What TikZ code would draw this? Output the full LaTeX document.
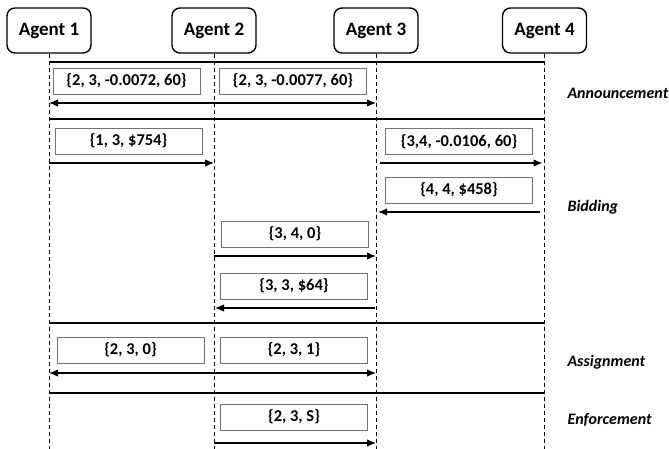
\documentclass[tikz,border=0pt]{standalone}
\usepackage{fontspec}
\setmainfont{Carlito}
\usetikzlibrary{arrows.meta}

\begin{document}
\begin{tikzpicture}[x=1pt,y=-1pt,
    agent/.style={draw,line width=1.4pt,rounded corners=8pt,minimum width=84pt,minimum height=45pt,
      font=\fontsize{19}{22}\selectfont\bfseries},
    msg/.style={draw=black!55,fill=white,line width=0.9pt,minimum width=147pt,minimum height=26pt,inner sep=0pt,
      font=\fontsize{16.5}{19}\selectfont\bfseries},
    life/.style={line width=0.8pt,dash pattern=on 4pt off 3pt},
    phase/.style={line width=2.6pt},
    sig/.style={-{Latex[length=9pt,width=7.5pt]},line width=1.3pt},
    stage/.style={anchor=west,font=\fontsize{16}{19}\selectfont\bfseries\itshape}]

        \useasboundingbox (0,0) rectangle (669,449);

        % Agents
        \node[agent] (a1) at (49,30.5) {Agent 1};
        \node[agent] (a2) at (214,30.5) {Agent 2};
        \node[agent] (a3) at (376,30.5) {Agent 3};
        \node[agent] (a4) at (544.5,30.5) {Agent 4};

        % Lifelines
        \foreach \i in {1,...,4} {
            \coordinate (e\i) at (a\i |- 0,449);
            \draw[life] (a\i) -- (e\i);
        }

        % Phase separators
        \foreach \y [count=\k] in {62,119,323,393} {
            \coordinate (p\k) at (a1 |- 0,\y);
            \coordinate (q\k) at (a4 |- 0,\y);
            \draw[phase] (p\k) -- (q\k);
        }

        % Points on the lifelines, one row per message
        \foreach \y [count=\r] in {103,163,212,256,308,373,443} {
            \foreach \i in {1,...,4} {
                \coordinate (r\r-\i) at (a\i |- 0,\y);
            }
        }

        % Announcement
        \node[msg] (b1) at (126.5,81) {\{2, 3, -0.0072, 60\}};
        \node[msg] (b2) at (293,81) {\{2, 3, -0.0077, 60\}};
        \draw[sig] (r1-2) -- (r1-1);
        \draw[sig] (r1-2) -- (r1-3);
        \node[stage] (st1) at (564,93) {Announcement};

        % Bidding
        \node[msg] (b3) at (128.5,141) {\{1, 3, \$754\}};
        \draw[sig] (r2-1) -- (r2-2);
        \node[msg] (b4) at (459,141.5) {\{3,4, -0.0106, 60\}};
        \draw[sig,shorten <=4pt,shorten >=2pt] (r2-3) -- (r2-4);
        \node[msg] (b5) at (459,190) {\{4, 4, \$458\}};
        \draw[sig,shorten <=5pt,shorten >=2pt] (r3-4) -- (r3-3);
        \node[msg] (b6) at (295,234) {\{3, 4, 0\}};
        \draw[sig] (r4-2) -- (r4-3);
        \node[msg] (b7) at (294,286) {\{3, 3, \$64\}};
        \draw[sig,shorten <=1pt,shorten >=1pt] (r5-3) -- (r5-2);
        \node[stage] (st2) at (564,207) {Bidding};

        % Assignment
        \node[msg] (b8) at (130.5,350) {\{2, 3, 0\}};
        \node[msg] (b9) at (294,350) {\{2, 3, 1\}};
        \draw[sig] (r6-2) -- (r6-1);
        \draw[sig] (r6-2) -- (r6-3);
        \node[stage] (st3) at (564,362) {Assignment};

        % Enforcement
        \node[msg] (b10) at (294,417) {\{2, 3, S\}};
        \draw[sig] (r7-2) -- (r7-3);
        \node[stage] (st4) at (564,420) {Enforcement};
    \end{tikzpicture}
\end{document}
